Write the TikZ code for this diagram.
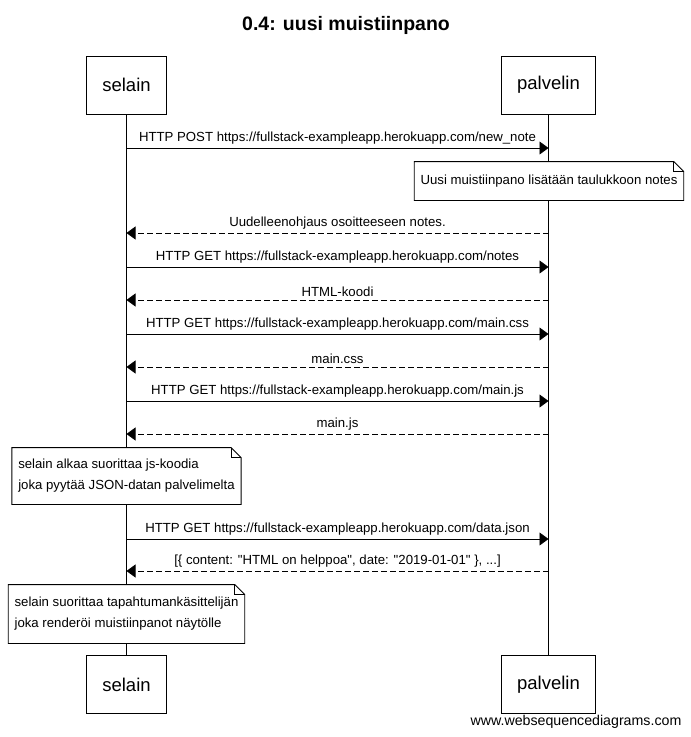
\documentclass[tikz,border=0pt]{standalone}
\usepackage{fontspec}
\setmainfont{Liberation Sans}
\usetikzlibrary{arrows.meta,positioning,calc}

\tikzset{
  actor/.style={draw, inner xsep=16pt, minimum height=58pt, font=\fontsize{18.5}{20}\selectfont},
  msg/.style={-{Triangle[length=9pt,width=13pt]}, font=\fontsize{13.2}{15}\selectfont},
  reply/.style={msg, dash pattern=on 6pt off 3pt},
  note/.style={fill=white, align=left, inner xsep=6pt, font=\fontsize{13.2}{21}\selectfont},
}
% folded corner round a note node
\newcommand{\notefold}[1]{%
  \draw (#1.north west) -- ($(#1.north east)+(-10,0)$) -- ($(#1.north east)+(0,10)$)
    -- (#1.south east) -- (#1.south west) -- cycle;
  \draw ($(#1.north east)+(-10,0)$) -- ($(#1.north east)+(-10,10)$) -- ($(#1.north east)+(0,10)$);}

\begin{document}
\begin{tikzpicture}[x=1pt, y=-1pt, line width=0.8pt]
\useasboundingbox (0,0) rectangle (691,737);

\node[font=\fontsize{19.5}{21}\selectfont\bfseries] (title) at (346,25) {0.4: uusi muistiinpano};

\node[actor] (sel1) at (126.5,85) {selain};
\node[actor] (pal1) at (548.5,85) {palvelin};
\node[actor] (sel2) at (126.5,684.5) {selain};
\node[actor] (pal2) at (548.5,684.5) {palvelin};

\draw (sel1) -- (sel2);
\draw (pal1) -- (pal2);

\foreach \i/\y in {1/148,2/233,3/267,4/300,5/334,6/367,7/401,8/434,9/539,10/571}
  {\coordinate (s\i) at (sel1 |- 0,\y);
   \coordinate (p\i) at (pal1 |- 0,\y);}

\path (s1) edge[msg] node[above]{HTTP POST https://fullstack-exampleapp.herokuapp.com/new\_note} (p1)
      (p2) edge[reply] node[above]{Uudelleenohjaus osoitteeseen notes.} (s2)
      (s3) edge[msg] node[above]{HTTP GET https://fullstack-exampleapp.herokuapp.com/notes} (p3)
      (p4) edge[reply] node[above]{HTML-koodi} (s4)
      (s5) edge[msg] node[above]{HTTP GET https://fullstack-exampleapp.herokuapp.com/main.css} (p5)
      (p6) edge[reply] node[above]{main.css} (s6)
      (s7) edge[msg] node[above]{HTTP GET https://fullstack-exampleapp.herokuapp.com/main.js} (p7)
      (p8) edge[reply] node[above]{main.js} (s8)
      (s9) edge[msg] node[above]{HTTP GET https://fullstack-exampleapp.herokuapp.com/data.json} (p9)
      (p10) edge[reply] node[above]{[\{ content: \textquotedbl HTML on helppoa\textquotedbl, date: \textquotedbl 2019-01-01\textquotedbl\ \}, ...]} (s10);

\node[note, minimum height=38pt] (n1) at (549,181) {Uusi muistiinpano lisätään taulukkoon notes};
\notefold{n1}
\node[note, minimum height=56pt] (n2) at (126.5,476) {selain alkaa suorittaa js-koodia\\joka pyytää JSON-datan palvelimelta};
\notefold{n2}
\node[note, minimum height=58pt] (n3) at (126.5,614) {selain suorittaa tapahtumankäsittelijän\\joka renderöi muistiinpanot näytölle};
\notefold{n3}

\node[font=\fontsize{14.2}{16}\selectfont] (wsd) at (576,722) {www.websequencediagrams.com};
\end{tikzpicture}
\end{document}
